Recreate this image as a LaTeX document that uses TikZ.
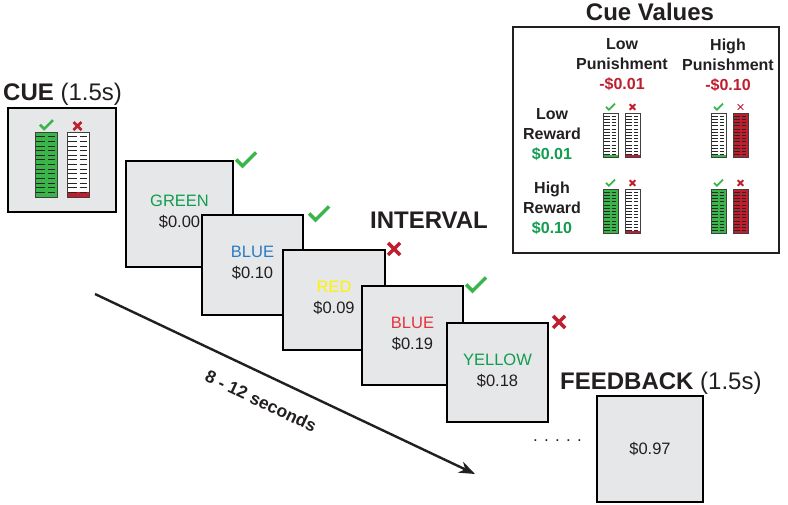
\documentclass[tikz,border=0pt]{standalone}
\usepackage{fontspec}
\setmainfont{Liberation Sans}
\usetikzlibrary{arrows.meta}

\definecolor{inkgray}{HTML}{231F20}
\definecolor{okgreen}{HTML}{39B54A}
\definecolor{wordgreen}{HTML}{119C4F}
\definecolor{badred}{HTML}{BE1E2D}
\definecolor{wordred}{HTML}{E8313C}
\definecolor{wordblue}{HTML}{2B7BC1}
\definecolor{wordyellow}{HTML}{FFF200}
\definecolor{panelgray}{HTML}{E6E7E8}

\tikzset{
  panel/.style={draw=black, line width=2.2pt, fill=panelgray, inner sep=0pt},
  trialtxt/.style={text=inkgray, inner sep=0pt, font=\fontsize{16.5}{19}\selectfont},
  headtxt/.style={text=inkgray, inner sep=0pt, font=\fontsize{24}{28}\selectfont},
  cvtxt/.style={text=inkgray, inner sep=0pt, align=center, font=\fontsize{16}{20}\selectfont\bfseries},
  meterline/.style={line width=0.8pt, black!85},
  % pics are not flipped by yscale=-1, so they are drawn with y up
  pics/okmark/.style={code={
    \draw[okgreen, line width=#1] (-1,0.05) -- (-0.35,-0.6) -- (1,0.75);
  }},
  pics/nomark/.style={code={
    \draw[badred, line width=#1] (-1,-1) -- (1,1) (-1,1) -- (1,-1);
  }},
  pics/meter/.style 2 args={code={
    \fill[white] (0,0) rectangle (22,-65);
    \fill[#1] (0,-65) rectangle (22,{-65+#2*65/14});
    \foreach \k in {1,...,13}
      \draw[meterline] (0,{-\k*65/14}) -- (9.5,{-\k*65/14}) (12.5,{-\k*65/14}) -- (19.5,{-\k*65/14});
    \draw[line width=1pt, black!75] (0,0) rectangle (22,-65);
  }}
}

\begin{document}
\begin{tikzpicture}[x=1pt,y=1pt,yscale=-1,xscale=1]
\useasboundingbox (0,0) rectangle (788,504);

%Cue screen
\node[headtxt, anchor=base west] (cuelbl) at (3,100) {\textbf{CUE} (1.5s)};
\node[panel, minimum width=108pt, minimum height=104pt] (cue) at (62,160) {};
\pic at (35,132) {meter={okgreen}{14}};
\pic at (67,132) {meter={badred}{1}};
\pic[scale=6.5] at (46.5,125) {okmark=2.6pt};
\pic[scale=4] at (77.5,126) {nomark=2.6pt};

%Trial screens
\node[panel, minimum width=107pt, minimum height=106pt] (g1) at (179.5,214) {};
\node[trialtxt, text=wordgreen] (w1) at ([yshift=-13pt]g1.center) {GREEN};
\node[trialtxt] (v1) at ([yshift=8pt]g1.center) {\$0.00};
\pic[scale=10] at ([xshift=12pt]g1.north east) {okmark=3.5pt};

\node[panel, minimum width=101pt, minimum height=100pt] (g2) at (252.5,265) {};
\node[trialtxt, text=wordblue] (w2) at ([yshift=-13pt]g2.center) {BLUE};
\node[trialtxt] (v2) at ([yshift=8pt]g2.center) {\$0.10};
\pic[scale=10] at ([xshift=15pt]g2.north east) {okmark=3.5pt};

\node[panel, minimum width=102pt, minimum height=100pt] (g3) at (334,300) {};
\node[trialtxt, text=wordyellow] (w3) at ([yshift=-13pt]g3.center) {RED};
\node[trialtxt] (v3) at ([yshift=8pt]g3.center) {\$0.09};
\pic[scale=6] at ([xshift=8pt]g3.north east) {nomark=3.5pt};

\node[headtxt, anchor=base] (ivl) at (429,228) {\textbf{INTERVAL}};

\node[panel, minimum width=101pt, minimum height=99pt] (g4) at (412.5,335.5) {};
\node[trialtxt, text=wordred] (w4) at ([yshift=-13pt]g4.center) {BLUE};
\node[trialtxt] (v4) at ([yshift=8pt]g4.center) {\$0.19};
\pic[scale=10] at ([xshift=12pt]g4.north east) {okmark=3.5pt};

\node[panel, minimum width=101pt, minimum height=99pt] (g5) at (497.5,372.5) {};
\node[trialtxt, text=wordgreen] (w5) at ([yshift=-13pt]g5.center) {YELLOW};
\node[trialtxt] (v5) at ([yshift=8pt]g5.center) {\$0.18};
\pic[scale=6] at ([xshift=10pt]g5.north east) {nomark=3.5pt};

%Time arrow
\coordinate (tstart) at (95,294);
\coordinate (tend) at (475,474);
\draw[inkgray, line width=2.4pt, -{Stealth[length=16pt,width=12pt]}] (tstart) -- (tend);
\node[trialtxt, font=\fontsize{17.5}{19}\selectfont\bfseries, rotate=-25.3] (dur) at (261,401) {8 - 12 seconds};

%Feedback screen
\node[headtxt, anchor=base west] (fblbl) at (560,389) {\textbf{FEEDBACK} (1.5s)};
\node[trialtxt, font=\fontsize{17}{19}\selectfont] (dots) at (557.5,441) {. . . . .};
\node[panel, minimum width=106pt, minimum height=106pt] (fb) at (650,449) {};
\node[trialtxt] (fbv) at (fb.center) {\$0.97};

%Cue values legend
\node[headtxt, anchor=base] (cvtitle) at (650,20) {\textbf{Cue Values}};
\node[draw=inkgray, line width=2pt, minimum width=266pt, minimum height=226pt] (cv) at (646,140) {};
\node[cvtxt] (lowp) at (622,65) {Low\\Punishment\\\textcolor{badred}{-\$0.01}};
\node[cvtxt] (highp) at (728,65) {High\\Punishment\\\textcolor{badred}{-\$0.10}};
\node[cvtxt] (lowr) at (552,135) {Low\\Reward\\\textcolor{wordgreen}{\$0.01}};
\node[cvtxt] (highr) at (552,208) {High\\Reward\\\textcolor{wordgreen}{\$0.10}};

%Mini meters, low reward row
\pic[scale=0.69] at (603,113) {meter={okgreen}{1}};
\pic[scale=0.69] at (625,113) {meter={badred}{1}};
\pic[scale=0.69] at (711,113) {meter={okgreen}{1}};
\pic[scale=0.69] at (733,113) {meter={badred}{14}};
\pic[scale=4.5] at (610.5,107) {okmark=1.8pt};
\pic[scale=2.8] at (632.5,107) {nomark=1.8pt};
\pic[scale=4.5] at (718.5,107) {okmark=1.8pt};
\pic[scale=2.8] at (740.5,107) {nomark=1pt};

%Mini meters, high reward row
\pic[scale=0.69] at (603,189) {meter={okgreen}{14}};
\pic[scale=0.69] at (625,189) {meter={badred}{1}};
\pic[scale=0.69] at (711,189) {meter={okgreen}{14}};
\pic[scale=0.69] at (733,189) {meter={badred}{14}};
\pic[scale=4.5] at (610.5,183) {okmark=1.8pt};
\pic[scale=2.8] at (632.5,183) {nomark=1.8pt};
\pic[scale=4.5] at (718.5,183) {okmark=1.8pt};
\pic[scale=2.8] at (740.5,183) {nomark=1.8pt};

\end{tikzpicture}
\end{document}
